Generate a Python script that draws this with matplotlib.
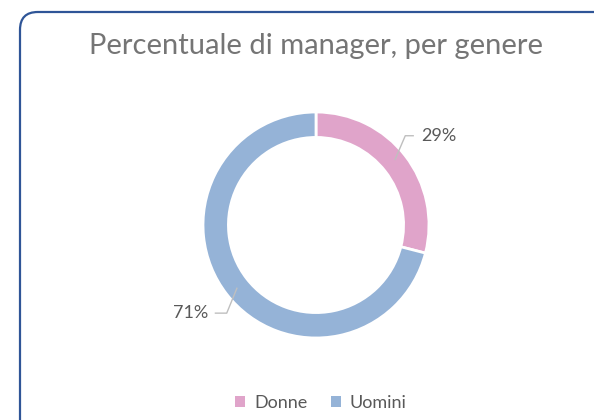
import matplotlib.pyplot as plt
from matplotlib.patches import FancyBboxPatch, Patch

categories = ["Donne", "Uomini"]
shares = [29, 71]
labels = ["29%", "71%"]
colors = ["#E0A4CA", "#95B3D7"]

plt.rcParams['font.family'] = ['Lato', 'DejaVu Sans']

W, H = 594, 420
fig = plt.figure(figsize=(W / 100, H / 100), dpi=100)
fig.patch.set_facecolor("white")

# chart frame (cut off at right and bottom)
frame = FancyBboxPatch((20 / W, -30 / H), 600 / W, (H - 12 + 30) / H,
                       boxstyle="round,pad=0,rounding_size=0.03",
                       transform=fig.transFigure, facecolor="white",
                       edgecolor="#2F5597", linewidth=1.6, mutation_aspect=W / H,
                       zorder=-1)
fig.patches.append(frame)

fig.text(316 / W, 1 - 46 / H, "Percentuale di manager, per genere",
         ha="center", va="center", fontsize=21, color="#757575")

cx, cy, r = 316, 225, 113
ax = fig.add_axes([(cx - r) / W, (H - cy - r) / H, 2 * r / W, 2 * r / H])
ax.patch.set_alpha(0)

wedges, _ = ax.pie(shares, colors=colors, startangle=90, counterclock=False,
                   radius=1, wedgeprops=dict(width=0.225, edgecolor="white", linewidth=2))
for w in wedges:
    w.set_clip_on(False)
ax.set_xlim(-1, 1)
ax.set_ylim(-1, 1)
ax.axis("off")

grey = "#BFBFBF"
ax.plot([0.70, 0.79, 0.86], [0.58, 0.79, 0.79], color=grey, lw=1, clip_on=False)
ax.text(0.93, 0.79, labels[0], ha="left", va="center", fontsize=13, color="#595959")
ax.plot([-0.70, -0.79, -0.89], [-0.56, -0.78, -0.78], color=grey, lw=1, clip_on=False)
ax.text(-0.95, -0.78, labels[1], ha="right", va="center", fontsize=13, color="#595959")

handles = [Patch(facecolor=c, edgecolor="none") for c in colors]
fig.legend(handles, categories, loc="center", bbox_to_anchor=(321 / W, 1 - 403 / H),
           ncol=2, frameon=False, fontsize=13, labelcolor="#595959",
           handlelength=0.55, handleheight=0.55, handletextpad=0.5, columnspacing=1.3)

fig.savefig("out.png", dpi=100)
